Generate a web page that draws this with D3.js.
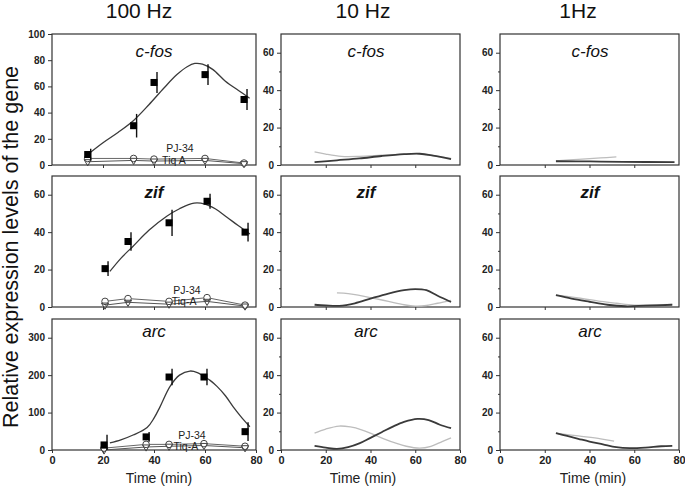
<!DOCTYPE html>
<html><head><meta charset="utf-8">
<script src="https://cdn.jsdelivr.net/npm/d3@7"></script>
<style>body{margin:0;background:#fff}svg{display:block}text{font-family:"Liberation Sans",Arial,sans-serif}</style>
</head><body><svg id="c" width="685" height="488"></svg>
<script>
// ================= DATA =================
const columnTitles = ["100 Hz", "10 Hz", "1Hz"];
const geneNames = ["c-fos", "zif", "arc"];
const yAxisTitle = "Relative expression levels of the gene";
const xAxisTitle = "Time (min)";
const xTickValues = [0, 20, 40, 60, 80];
const yTicks100 = [[0, 20, 40, 60, 80, 100], [0, 20, 40, 60], [0, 100, 200, 300]];
const yMax100 = [100, 70, 350];
const yTicksLow = [0, 20, 40, 60];
const yMinorLow = [10, 30, 50];
const yMaxLow = 70;

// ---- 100 Hz : c-fos ----
const cfos100T = [14, 32, 40, 60, 75.3];
const cfos100Mean = [8, 30, 63, 69, 50];
const cfos100Err = [4.5, 9, 8, 8, 8];
const cfos100Fit = [[14,8],[20,17],[26,25],[32,34],[38,46],[44,59],[49,69],[53,75],[56,77.5],[59,77],[63,73],[68,64],[73,57],[77.5,51]];
const cfos100PJ34 = [5, 5, 4.5, 5, 1.5];
const cfos100TiqA = [2.5, 3.5, 3, 3.5, 1];

// ---- 100 Hz : zif ----
const zif100T = [20.8, 29.8, 45.9, 60.8, 75.7];
const zif100Mean = [20.5, 35, 45, 56.5, 40];
const zif100Err = [4, 5, 7, 4, 5];
const zif100Fit = [[22.7,19],[27,26],[31.8,32.5],[38,41],[45,48.5],[50,52.5],[55.7,55.5],[60,55],[64,52.5],[68.6,48],[73,43.5],[77.6,39]];
const zif100PJ34 = [3, 4.5, 3, 5, 1];
const zif100TiqA = [1, 2.5, 1.5, 3, 0.5];

// ---- 100 Hz : arc ----
const arc100T = [20.4, 36.9, 45.9, 59.6, 75.7];
const arc100Mean = [13.5, 35, 195, 195, 49];
const arc100Err = [27, 13, 22, 22, 25];
const arc100Fit = [[22.7,19],[27,27],[31.8,40],[37.3,60],[40,85],[42.4,116],[46.3,170],[50,200],[54.1,211],[57,207],[59.2,198],[62,186],[64.7,170],[68,145],[71,116],[74,90],[77.6,62]];
const arc100PJ34 = [5, 15, 15, 17, 10];
const arc100TiqA = [0, 8, 10, 12, 6];

// ---- 10 Hz ----
const cfos10Dark = [[15,1.5],[25,2.5],[35,3.5],[45,4.8],[55,5.8],[62,6],[68,5],[76,3.2]];
const cfos10Light = [[15,7],[20,5.8],[27,4.6],[35,4.6],[45,5.2],[55,5.8],[62,6],[68,5],[76,3.5]];
const zif10Dark = [[15,1.2],[20,0.8],[26,0.6],[33,2],[40,4.5],[48,7.2],[55,9],[60,9.6],[65,9],[70,6],[76,2.7]];
const zif10Light = [[25,7.5],[30,7.2],[35,6.2],[41,4.8],[48,3],[55,1.2],[60,0.5],[65,0.8],[70,2],[76,3.6]];
const arc10Dark = [[15,2.2],[20,1.3],[25,0.6],[30,1.5],[35,3.5],[40,6.5],[45,9.5],[50,12.5],[55,15],[61,16.6],[66,16],[71,13.5],[76,11.7]];
const arc10Light = [[15,9],[20,11.2],[26,12.8],[31,12.3],[36,10.8],[41,8.5],[46,6],[51,3.8],[56,2],[62,1],[67,2],[72,4.5],[76,6.5]];

// ---- 1 Hz ----
const cfos1Dark = [[25,2],[40,1.9],[55,1.7],[78,1.5]];
const cfos1Light = [[25,2.2],[35,3],[45,3.8],[52,4.3]];
const zif1Dark = [[25,6.3],[32,4.5],[40,2.8],[48,1.2],[56,0.4],[65,0.7],[77,1.2]];
const zif1Light = [[25,6.3],[35,4.8],[45,3],[52,2],[60,1],[70,1.2],[77,1.4]];
const arc1Dark = [[25,9],[30,7.5],[35,6],[40,4.5],[46,3],[52,1.5],[58,1],[65,1.3],[72,2],[77,2.2]];
const arc1Light = [[25,9],[35,7.5],[45,6],[51,4.8]];

// treatment labels (anchor in data units: time, value)
const pjLabels = ["PJ-34", "PJ-34", "PJ-34"];
const tiqLabels = ["Tiq A", "Tiq-A", "Tiq-A"];
const pjAnchor = [[50.2, 10.3], [52.9, 7.2], [54.9, 30]];
const tiqAnchor = [[47.8, 0.8], [51.8, 1.1], [52.5, 0]];

// ================= LAYOUT =================
const colX = [[52, 256], [281, 460], [500, 679]];
const rowY = [[34, 165], [176, 307], [319, 450]];
const geneX = [154, 366, 590];
const geneBase = [57, 198, 337];
const titleX = [139, 363, 578];
const timeX = [159, 363, 593];

const highSets = [
  {t: cfos100T, m: cfos100Mean, e: cfos100Err, fit: cfos100Fit, pj: cfos100PJ34, tq: cfos100TiqA},
  {t: zif100T, m: zif100Mean, e: zif100Err, fit: zif100Fit, pj: zif100PJ34, tq: zif100TiqA},
  {t: arc100T, m: arc100Mean, e: arc100Err, fit: arc100Fit, pj: arc100PJ34, tq: arc100TiqA}
];
const lowSets = [
  [[cfos10Dark, cfos10Light], [zif10Dark, zif10Light], [arc10Dark, arc10Light]],
  [[cfos1Dark, cfos1Light], [zif1Dark, zif1Light], [arc1Dark, arc1Light]]
];

const svg = d3.select("#c");
const axisColor = "#333";

function styleAxis(g, fs) {
  g.select(".domain").remove();
  g.selectAll(".tick line").attr("stroke", axisColor).attr("stroke-width", 1);
  g.selectAll(".tick text").attr("fill", "#222").attr("font-size", fs).attr("font-weight", "bold")
    .attr("font-family", "'Liberation Sans',Arial,sans-serif");
}

for (let ci = 0; ci < 3; ci++) {
  for (let ri = 0; ri < 3; ri++) {
    const x = d3.scaleLinear().domain([0, 80]).range(colX[ci]);
    const yMax = ci === 0 ? yMax100[ri] : yMaxLow;
    const y = d3.scaleLinear().domain([0, yMax]).range([rowY[ri][1], rowY[ri][0]]);
    const g = svg.append("g");

    // box
    g.append("rect").attr("x", colX[ci][0]).attr("y", rowY[ri][0])
      .attr("width", colX[ci][1] - colX[ci][0]).attr("height", rowY[ri][1] - rowY[ri][0])
      .attr("fill", "none").attr("stroke", axisColor).attr("stroke-width", 1.2);

    // y axis
    const ya = g.append("g").attr("transform", `translate(${colX[ci][0]},0)`)
      .call(d3.axisLeft(y).tickValues(ci === 0 ? yTicks100[ri] : yTicksLow).tickSize(4).tickPadding(3));
    styleAxis(ya, 10);
    if (ci > 0) {
      const ym = g.append("g").attr("transform", `translate(${colX[ci][0]},0)`)
        .call(d3.axisLeft(y).tickValues(yMinorLow).tickSize(2).tickFormat(""));
      styleAxis(ym, 10);
    }
    // x axis
    const xa = g.append("g").attr("transform", `translate(0,${rowY[ri][1]})`);
    if (ri === 2) {
      xa.call(d3.axisBottom(x).tickValues(xTickValues).tickSize(3).tickPadding(3));
    } else {
      xa.call(d3.axisBottom(x).tickValues([20, 40, 60]).tickSize(3).tickFormat(""));
    }
    styleAxis(xa, 11);

    // gene label
    g.append("text").attr("x", geneX[ci]).attr("y", geneBase[ri]).attr("text-anchor", "middle")
      .attr("font-size", 17).attr("font-style", "italic")
      .attr("font-weight", ri === 1 ? "bold" : "normal").attr("fill", "#111").text(geneNames[ri]);

    const line = d3.line().x(d => x(d[0])).y(d => y(d[1]));

    if (ci === 0) {
      const s = highSets[ri];
      const lowLine = d3.line().x((d, i) => x(s.t[i])).y(d => y(d));
      // treatment lines
      g.append("path").attr("d", lowLine(s.pj)).attr("fill", "none").attr("stroke", "#666").attr("stroke-width", 1);
      g.append("path").attr("d", lowLine(s.tq)).attr("fill", "none").attr("stroke", "#555").attr("stroke-width", 1);
      // labels
      g.append("text").attr("x", x(pjAnchor[ri][0])).attr("y", y(pjAnchor[ri][1])).attr("text-anchor", "middle")
        .attr("font-size", 10.5).attr("fill", "#222").text(pjLabels[ri]);
      g.append("text").attr("x", x(tiqAnchor[ri][0])).attr("y", y(tiqAnchor[ri][1])).attr("text-anchor", "middle")
        .attr("font-size", 10.5).attr("fill", "#222").text(tiqLabels[ri]);
      // markers
      g.selectAll(".pjm").data(s.pj).join("circle").attr("cx", (d, i) => x(s.t[i])).attr("cy", d => y(d))
        .attr("r", 3.3).attr("fill", "white").attr("stroke", "#444").attr("stroke-width", 1);
      g.selectAll(".tqm").data(s.tq).join("path")
        .attr("d", d3.symbol().type(d3.symbolTriangle).size(22))
        .attr("transform", (d, i) => `translate(${x(s.t[i])},${y(d)}) rotate(180)`)
        .attr("fill", "none").attr("stroke", "#444").attr("stroke-width", 1);
      // fitted curve
      g.append("path").attr("d", line.curve(d3.curveCatmullRom.alpha(0.5))(s.fit))
        .attr("fill", "none").attr("stroke", "#3a3a3a").attr("stroke-width", 1.3);
      // error bars
      g.selectAll(".eb").data(s.m).join("line")
        .attr("x1", (d, i) => x(s.t[i]) + 3).attr("x2", (d, i) => x(s.t[i]) + 3)
        .attr("y1", (d, i) => y(d + s.e[i])).attr("y2", (d, i) => y(Math.max(0, d - s.e[i])))
        .attr("stroke", "#111").attr("stroke-width", 1.4);
      // squares
      g.selectAll(".sq").data(s.m).join("rect")
        .attr("x", (d, i) => x(s.t[i]) - 3.5).attr("y", d => y(d) - 3.5)
        .attr("width", 7).attr("height", 7).attr("fill", "#000");
    } else {
      const pair = lowSets[ci - 1][ri];
      const cl = d3.line().x(d => x(d[0])).y(d => y(d[1])).curve(d3.curveCatmullRom.alpha(0.5));
      g.append("path").attr("d", cl(pair[1])).attr("fill", "none").attr("stroke", "#bdbdbd").attr("stroke-width", 1.3);
      g.append("path").attr("d", cl(pair[0])).attr("fill", "none").attr("stroke", "#3a3a3a").attr("stroke-width", 1.8);
    }

    if (ri === 2) {
      svg.append("text").attr("x", timeX[ci]).attr("y", 483).attr("text-anchor", "middle")
        .attr("font-size", 14).attr("fill", "#222").text(xAxisTitle);
    }
  }
  svg.append("text").attr("x", titleX[ci]).attr("y", 18).attr("text-anchor", "middle")
    .attr("font-size", 21).attr("fill", "#111").text(columnTitles[ci]);
}

svg.append("text").attr("transform", "translate(18,247) rotate(-90)").attr("text-anchor", "middle")
  .attr("font-size", 21.5).attr("fill", "#111").text(yAxisTitle);
</script></body></html>
